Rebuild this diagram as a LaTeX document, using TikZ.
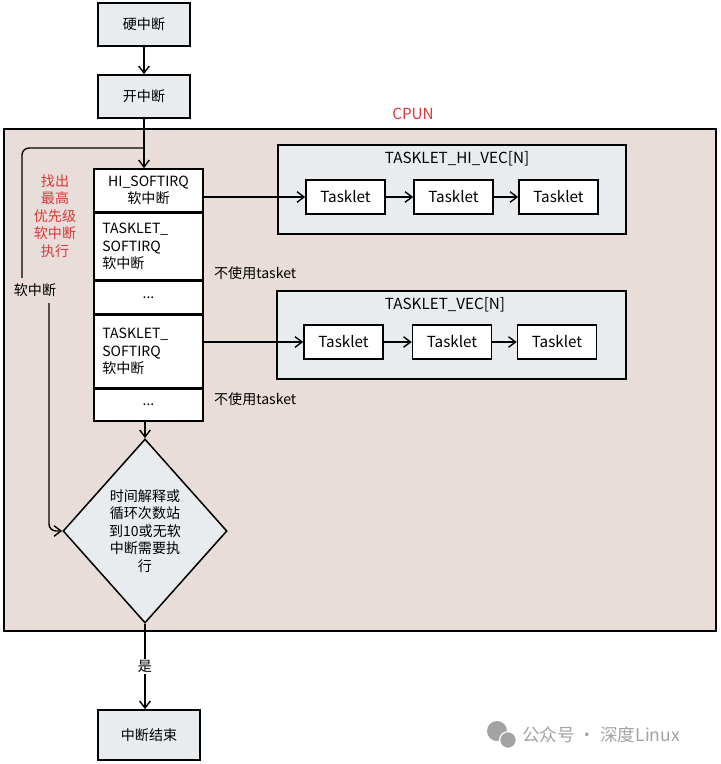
\documentclass[tikz,border=0pt]{standalone}
\usepackage{fontspec}
\setmainfont{Noto Sans CJK SC}
\usepackage{tikz}
\usetikzlibrary{positioning,shapes.geometric,arrows.meta,calc}
\definecolor{cpufill}{HTML}{E9DDD9}
\definecolor{boxgray}{HTML}{E9ECEF}
\definecolor{noteRed}{HTML}{D9383A}
\definecolor{markGray}{HTML}{A3A3A3}

\begin{document}
\begin{tikzpicture}[
    x=0.03cm, y=-0.03cm,
    >={Straight Barb[length=6pt,width=9pt]},
    every node/.style={font=\fontsize{12}{15}\selectfont},
    stepbox/.style={draw=black, line width=1.3pt, fill=boxgray,
                    minimum width=2.76cm, minimum height=1.29cm},
    row/.style={draw=black, line width=1.3pt, fill=white,
                text width=2.77cm, inner xsep=0.25cm, inner ysep=0pt},
    vecbox/.style={draw=black, line width=1.3pt, fill=boxgray},
    tasklet/.style={draw=black, line width=1.3pt, fill=white,
                    minimum width=2.37cm, minimum height=1.02cm,
                    font=\fontsize{13}{15}\selectfont},
    link/.style={->, line width=1.2pt}
  ]

    \useasboundingbox (0,0) rectangle (720,764);

    % CPU area ------------------------------------------------
    \node[draw=black, line width=1.4pt, fill=cpufill,
          minimum width=21.36cm, minimum height=15.06cm] (cpu) at (360,380) {};
    \node[text=noteRed, font=\fontsize{13}{15}\selectfont] (cpulbl) at (413,114) {CPUN};

    % Entry ---------------------------------------------------
    \node[stepbox] (hard) at (144,24.5) {硬中断};
    \node[stepbox] (open) at (144,96.5) {开中断};

    % Softirq table -------------------------------------------
    \node[row, align=center, minimum height=1.29cm] (r1) at (148.5,190.5)
        {HI\_SOFTIRQ\\软中断};
    \node[row, align=left, minimum height=1.98cm, below=0pt of r1] (r2)
        {TASKLET\_\\SOFTIRQ\\软中断};
    \node[row, align=center, minimum height=0.99cm, below=0pt of r2] (r3) {...};
    \node[row, align=left, minimum height=2.16cm, below=0pt of r3] (r4)
        {TASKLET\_\\SOFTIRQ\\软中断};
    \node[row, align=center, minimum height=0.96cm, below=0pt of r4] (r5) {...};

    \node[anchor=west] (note1) at (210,273) {不使用tasket};
    \node[anchor=west] (note2) at (210,399) {不使用tasket};

    \node[text=noteRed, align=center] (findtop) at (55,216)
        {找出\\最高\\优先级\\软中断\\执行};

    % HI vector -----------------------------------------------
    \node[vecbox, minimum width=10.44cm, minimum height=2.67cm] (hivec) at (452,189.5) {};
    \node[font=\fontsize{13}{15}\selectfont] (hititle) at (457,159) {TASKLET\_HI\_VEC[N]};
    \node[tasklet] (ht1) at (345.5,197) {Tasklet};
    \node[tasklet] (ht2) at (453.5,197) {Tasklet};
    \node[tasklet] (ht3) at (558.5,197) {Tasklet};

    % Tasklet vector ------------------------------------------
    \node[vecbox, minimum width=10.47cm, minimum height=2.64cm] (vec) at (451.5,335) {};
    \node[font=\fontsize{13}{15}\selectfont] (vtitle) at (445,305) {TASKLET\_VEC[N]};
    \node[tasklet] (vt1) at (343.5,342) {Tasklet};
    \node[tasklet] (vt2) at (452,342) {Tasklet};
    \node[tasklet] (vt3) at (557,342) {Tasklet};

    % Decision and end ----------------------------------------
    \node[diamond, draw=black, line width=1.3pt, fill=boxgray,
          minimum width=4.92cm, minimum height=5.52cm, inner sep=0pt,
          align=center] (dia) at (145,531)
        {时间解释或\\循环次数站\\到10或无软\\中断需要执\\行};
    \node[stepbox, minimum width=3.06cm, minimum height=1.5cm] (done) at (149,735) {中断结束};

    % Connectors ----------------------------------------------
    \draw[link] (hard) -- (open);
    \draw[link] (open.south) -- (open.south |- r1.north);
    \draw[link] (r1.east |- ht1) -- (ht1);
    \draw[link] (ht1) -- (ht2);
    \draw[link] (ht2) -- (ht3);
    \draw[link] (r4.east |- vt1) -- (vt1);
    \draw[link] (vt1) -- (vt2);
    \draw[link] (vt2) -- (vt3);
    \draw[link] (dia.north |- r5.south) -- (dia.north);
    \draw[link] (dia.south) -- (dia.south |- done.north)
        node[midway, fill=white, inner sep=1pt] (yes) {是};

    % Loop back -----------------------------------------------
    \coordinate (jn)  at (144,148);
    \coordinate (lp1) at (22,278);
    \node (loopl) at (35,290) {软中断};
    \coordinate (lp2) at (49,303);
    \draw[line width=1.2pt, rounded corners=6pt] (jn) -| (lp1);
    \draw[link, rounded corners=6pt] (lp2) |- (dia.west);

    % Watermark -----------------------------------------------
    \fill[markGray] (497,731) circle (0.3cm);
    \fill[markGray, draw=white, line width=1pt] (508,740) circle (0.25cm);
    \node[text=markGray, font=\fontsize{15}{17}\selectfont, anchor=west] (mark)
        at (518,735) {公众号 · 深度Linux};

\end{tikzpicture}
\end{document}
